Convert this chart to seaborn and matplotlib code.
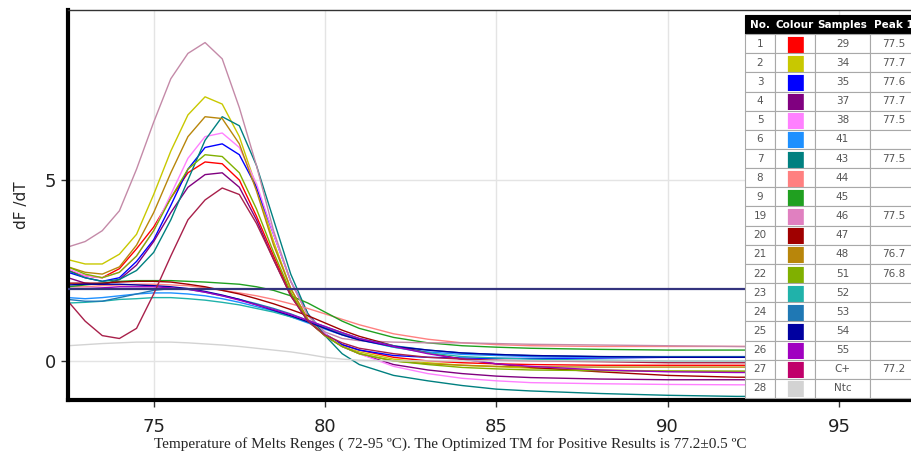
import pandas as pd
import matplotlib.pyplot as plt
import seaborn as sns

# temperature grid (x) shared by all melt curves
temps = [72.5, 73, 73.5, 74, 74.5, 75, 75.5, 76, 76.5, 77, 77.5, 78, 78.5, 79, 79.5,
         80, 80.5, 81, 82, 83, 84, 85, 86, 88, 90, 92, 94, 96, 97.2]

# positive samples (peaked curves)
s46 = [3.15, 3.3, 3.6, 4.15, 5.3, 6.6, 7.8, 8.5, 8.8, 8.35, 7.0, 5.4, 3.6, 2.2, 1.25,
       0.8, 0.62, 0.56, 0.52, 0.5, 0.5, 0.48, 0.46, 0.44, 0.42, 0.4, 0.38, 0.38, 0.38]
s34 = [2.8, 2.68, 2.68, 2.95, 3.5, 4.6, 5.8, 6.8, 7.3, 7.1, 6.2, 4.8, 3.3, 2.0, 1.15,
       0.7, 0.4, 0.25, 0.05, -0.05, -0.12, -0.16, -0.2, -0.25, -0.28, -0.3, -0.3, -0.3, -0.3]
s48 = [2.6, 2.45, 2.4, 2.6, 3.2, 4.1, 5.2, 6.2, 6.75, 6.7, 6.0, 4.7, 3.2, 2.0, 1.15,
       0.7, 0.4, 0.2, 0.0, -0.08, -0.12, -0.15, -0.16, -0.17, -0.17, -0.17, -0.17, -0.17, -0.17]
s43 = [2.5, 2.3, 2.2, 2.25, 2.5, 3.0, 3.9, 5.0, 6.1, 6.75, 6.5, 5.4, 3.9, 2.4, 1.3,
       0.7, 0.2, -0.1, -0.4, -0.55, -0.68, -0.78, -0.83, -0.9, -0.95, -0.98, -0.98, -0.98, -0.98]
s38 = [2.55, 2.35, 2.3, 2.45, 2.9, 3.6, 4.6, 5.6, 6.2, 6.3, 5.9, 4.9, 3.5, 2.2, 1.25,
       0.75, 0.4, 0.2, -0.15, -0.35, -0.48, -0.55, -0.6, -0.63, -0.65, -0.66, -0.66, -0.66, -0.66]
s35 = [2.45, 2.3, 2.2, 2.3, 2.75, 3.35, 4.3, 5.3, 5.9, 6.0, 5.7, 4.8, 3.5, 2.2, 1.3,
       0.75, 0.45, 0.3, 0.15, 0.1, 0.08, 0.07, 0.07, 0.08, 0.1, 0.1, 0.1, 0.1, 0.1]
s51 = [2.6, 2.4, 2.3, 2.45, 2.9, 3.6, 4.5, 5.3, 5.7, 5.65, 5.2, 4.2, 3.0, 1.9, 1.1,
       0.7, 0.4, 0.2, 0.0, -0.1, -0.18, -0.22, -0.25, -0.27, -0.28, -0.28, -0.28, -0.28, -0.28]
s29 = [2.5, 2.35, 2.3, 2.55, 3.1, 3.7, 4.5, 5.2, 5.5, 5.45, 5.0, 4.0, 2.9, 1.85, 1.1,
       0.7, 0.45, 0.3, 0.1, 0.0, -0.05, -0.08, -0.1, -0.12, -0.12, -0.12, -0.12, -0.12, -0.12]
s37 = [2.3, 2.15, 2.1, 2.25, 2.65, 3.3, 4.1, 4.8, 5.15, 5.2, 4.8, 3.9, 2.8, 1.8, 1.1,
       0.7, 0.4, 0.2, -0.1, -0.25, -0.35, -0.42, -0.46, -0.5, -0.52, -0.52, -0.52, -0.52, -0.52]
sCp = [1.65, 1.1, 0.7, 0.62, 0.9, 1.85, 2.9, 3.9, 4.45, 4.78, 4.6, 3.8, 2.8, 1.8, 1.1,
       0.72, 0.5, 0.35, 0.2, 0.1, 0.05, 0.02, 0.0, -0.02, -0.05, -0.05, -0.05, -0.05, -0.05]

# negative samples (flat curves)
s45 = [2.05, 2.1, 2.15, 2.2, 2.22, 2.22, 2.22, 2.2, 2.18, 2.15, 2.12, 2.05, 1.95, 1.8, 1.6,
       1.35, 1.1, 0.9, 0.65, 0.5, 0.42, 0.38, 0.35, 0.32, 0.3, 0.3, 0.3, 0.3, 0.3]
s54 = [2.1, 2.12, 2.12, 2.12, 2.1, 2.08, 2.05, 2.0, 1.92, 1.82, 1.7, 1.55, 1.4, 1.25, 1.08,
       0.9, 0.72, 0.58, 0.4, 0.3, 0.22, 0.18, 0.15, 0.12, 0.1, 0.1, 0.1, 0.1, 0.1]
s55 = [2.0, 2.0, 2.02, 2.05, 2.05, 2.05, 2.02, 1.98, 1.9, 1.8, 1.68, 1.55, 1.42, 1.28, 1.12,
       0.95, 0.78, 0.62, 0.4, 0.2, 0.05, -0.08, -0.15, -0.25, -0.3, -0.32, -0.32, -0.32, -0.32]
s47 = [2.15, 2.15, 2.15, 2.18, 2.2, 2.2, 2.18, 2.12, 2.05, 1.95, 1.85, 1.72, 1.58, 1.42, 1.25,
       1.05, 0.85, 0.68, 0.42, 0.22, 0.05, -0.08, -0.18, -0.3, -0.4, -0.45, -0.45, -0.45, -0.45]
s44 = [2.05, 2.05, 2.08, 2.1, 2.12, 2.12, 2.1, 2.08, 2.02, 1.95, 1.88, 1.8, 1.7, 1.58, 1.45,
       1.3, 1.15, 1.0, 0.75, 0.6, 0.5, 0.45, 0.42, 0.4, 0.4, 0.4, 0.4, 0.4, 0.4]
s41 = [1.75, 1.72, 1.75, 1.8, 1.85, 1.88, 1.88, 1.85, 1.8, 1.72, 1.62, 1.5, 1.38, 1.22, 1.05,
       0.88, 0.72, 0.58, 0.38, 0.25, 0.18, 0.15, 0.12, 0.1, 0.1, 0.1, 0.1, 0.1, 0.1]
s52 = [1.6, 1.62, 1.65, 1.7, 1.72, 1.75, 1.75, 1.72, 1.68, 1.62, 1.55, 1.45, 1.35, 1.22, 1.08,
       0.92, 0.75, 0.6, 0.38, 0.22, 0.12, 0.08, 0.05, 0.02, 0.0, 0.0, 0.0, 0.0, 0.0]
s53 = [1.7, 1.65, 1.65, 1.75, 1.85, 1.95, 2.0, 1.98, 1.9, 1.8, 1.7, 1.58, 1.45, 1.3, 1.12,
       0.95, 0.78, 0.62, 0.42, 0.3, 0.22, 0.18, 0.15, 0.12, 0.12, 0.12, 0.12, 0.12, 0.12]
sNtc = [0.42, 0.45, 0.48, 0.5, 0.52, 0.52, 0.52, 0.5, 0.47, 0.44, 0.4, 0.35, 0.3, 0.25, 0.18,
        0.1, 0.05, 0.02, 0.0, 0.0, 0.0, 0.0, 0.0, 0.0, 0.0, 0.0, 0.0, 0.0, 0.0]

threshold = 2.0

# table contents
tab_no = ['1', '2', '3', '4', '5', '6', '7', '8', '9', '19', '20', '21', '22', '23', '24', '25', '26', '27', '28']
tab_samples = ['29', '34', '35', '37', '38', '41', '43', '44', '45', '46', '47', '48', '51', '52', '53', '54', '55', 'C+', 'Ntc']
tab_peak = ['77.5', '77.7', '77.6', '77.7', '77.5', '', '77.5', '', '', '77.5', '', '76.7', '76.8', '', '', '', '', '77.2', '']
tab_colours = ['#ff0000', '#c8c800', '#0000ff', '#800080', '#ff80ff', '#1e90ff', '#008080', '#ff8080', '#20a020',
               '#e080c0', '#a00000', '#b8860b', '#80b000', '#20b2aa', '#1f78b4', '#0000a0', '#a000c0', '#c0006a', '#d3d3d3']

curves = {'29': s29, '34': s34, '35': s35, '37': s37, '38': s38, '41': s41, '43': s43, '44': s44,
          '45': s45, '46': s46, '47': s47, '48': s48, '51': s51, '52': s52, '53': s53, '54': s54,
          '55': s55, 'C+': sCp, 'Ntc': sNtc}
palette = dict(zip(tab_samples, tab_colours))
palette['46'] = '#c48aa8'   # curve drawn a bit more muted than the swatch
palette['C+'] = '#a8204a'

rows = []
for name, vals in curves.items():
    for t, v in zip(temps, vals):
        rows.append((name, t, v))
df = pd.DataFrame(rows, columns=['sample', 'temp', 'dfdt'])

sns.set_theme(style='white')
plt.rcParams['font.family'] = ['DejaVu Sans']

fig = plt.figure(figsize=(9.11, 4.55), dpi=100)
ax = fig.add_axes([68 / 911, 55 / 455, 843 / 911, 390 / 455])

ax.grid(True, color='#e4e4e4', lw=1)
ax.axhline(threshold, color='#34347e', lw=1.6, zorder=3)
sns.lineplot(data=df, x='temp', y='dfdt', hue='sample', palette=palette, estimator=None,
             sort=False, legend=False, lw=1.0, ax=ax, zorder=2)

ax.set_xlim(72.5, 97.1)
ax.set_ylim(-1.08, 9.7)
ax.set_xticks([75, 80, 85, 90, 95])
ax.set_yticks([0, 5])
ax.tick_params(axis='both', direction='out', length=5, width=1, color='#333333',
               labelsize=13, labelcolor='#222222', bottom=True, left=True)
ax.tick_params(axis='x', pad=8)
for s in ['left', 'bottom']:
    ax.spines[s].set_linewidth(3)
    ax.spines[s].set_color('black')
ax.spines['top'].set_linewidth(1)
ax.spines['top'].set_color('#333333')
ax.spines['right'].set_visible(False)

ax.set_ylabel('dF /dT', fontsize=11, labelpad=11)
ax.set_xlabel('Temperature of Melts Renges ( 72-95 ºC). The Optimized TM for Positive Results is 77.2±0.5 ºC',
              fontsize=11, family=['Liberation Serif'], labelpad=1)
ax.xaxis.set_label_coords((450 - 68) / 843, -0.095)

cell_text = [[n, '■', s, p] for n, s, p in zip(tab_no, tab_samples, tab_peak)]
tab = ax.table(cellText=cell_text, colLabels=['No.', 'Colour', 'Samples', 'Peak 1'],
               cellLoc='center', colWidths=[30, 40, 55, 48],
               bbox=[(745 - 68) / 843, 2 / 390, 173 / 843, 383 / 390])
tab.auto_set_font_size(False)
tab.set_fontsize(7.5)
tab.set_zorder(10)
for (r, c), cell in tab.get_celld().items():
    cell.set_linewidth(0.8)
    if r == 0:
        cell.set_facecolor('black')
        cell.set_edgecolor('black')
        cell.get_text().set_color('white')
        cell.get_text().set_fontweight('bold')
    else:
        cell.set_facecolor('white')
        cell.set_edgecolor('#a8a8a8')
        cell.get_text().set_color('#555555')
        if c == 1:
            cell.get_text().set_color(tab_colours[r - 1])
            cell.get_text().set_fontsize(15)

fig.savefig('out.png', dpi=100)
